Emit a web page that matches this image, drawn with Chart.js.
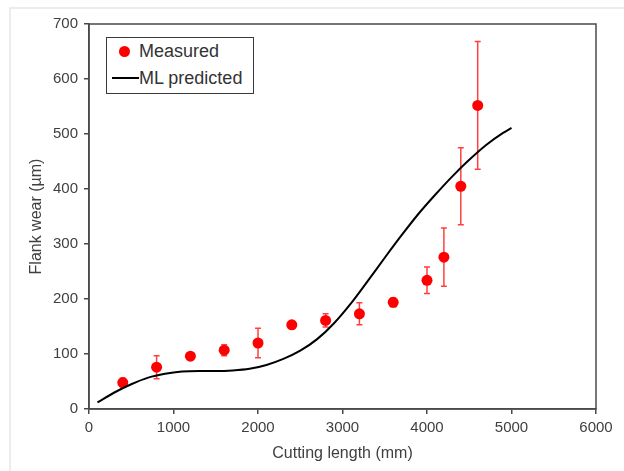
<!DOCTYPE html>
<html>
<head>
<meta charset="utf-8">
<script src="https://cdn.jsdelivr.net/npm/chart.js@4"></script>
<style>
  html, body { margin: 0; padding: 0; background: #fff; }
  #wrap { position: relative; width: 624px; height: 471px; }
  #frame { position: absolute; left: 9px; top: 7px; right: 0; bottom: 0;
           border-left: 2px solid #ececec; border-top: 2px solid #ececec; }
  #legend { position: absolute; left: 106px; top: 37px; width: 146px; height: 55px;
            border: 1px solid #3a3a3a; background: #fff;
            font-family: "Liberation Sans", Arial, sans-serif; font-size: 18px; color: #333; }
  .item { position: absolute; left: 0; height: 22px; line-height: 22px; }
  .dot { position: absolute; left: 12px; top: 6px; width: 11px; height: 11px; border-radius: 50%; background: #ff0000; }
  .seg { position: absolute; left: 5px; top: 10px; width: 27px; height: 2px; background: #000; }
  .lbl { position: absolute; left: 32px; white-space: nowrap; }
</style>
</head>
<body>
<div id="wrap">
  <div id="frame"></div>
  <canvas id="chart" width="624" height="471"></canvas>
  <div id="legend">
    <div class="item" style="top:2px"><span class="dot"></span><span class="lbl">Measured</span></div>
    <div class="item" style="top:29px"><span class="seg"></span><span class="lbl">ML predicted</span></div>
  </div>
</div>
<script>
// ==========================================
// DATA
// ==========================================
var lengths  = [400, 800, 1200, 1600, 2000, 2400, 2800, 3200, 3600, 4000, 4200, 4400, 4600];
var measured = [48, 76, 96, 107, 120, 153, 161, 173, 194, 234, 276, 405, 552];
var yErr     = [8, 21, 6, 10, 27, 6, 12, 20, 8, 24, 53, 70, 116];

var predX = [100, 300, 500, 700, 900, 1100, 1300, 1500, 1700, 1900, 2100, 2300, 2500,
             2700, 2900, 3100, 3300, 3500, 3700, 3900, 4100, 4300, 4500, 4700, 4900, 5000];
var predY = [12, 30, 45, 57, 64, 68, 69, 69, 70, 73, 80, 91, 106,
             127, 156, 192, 233, 275, 316, 355, 390, 423, 453, 480, 502, 511];

var xTicks = [0, 1000, 2000, 3000, 4000, 5000, 6000];
var yTicks = [0, 100, 200, 300, 400, 500, 600, 700];

var measuredPts = lengths.map(function (x, i) { return { x: x, y: measured[i] }; });
var predPts = predX.map(function (x, i) { return { x: x, y: predY[i] }; });

var tickFont = { family: "'Liberation Sans', Arial, sans-serif", size: 15 };
var titleFont = { family: "'Liberation Sans', Arial, sans-serif", size: 16 };
var axisColor = "#4a4a4a";
var textColor = "#404040";

// error bars drawn with the chart's scales
var errorBars = {
    id: "errorBars",
    beforeDatasetsDraw: function (chart) {
        var ctx = chart.ctx;
        var xs = chart.scales.x, ys = chart.scales.y;
        ctx.save();
        ctx.strokeStyle = "rgba(255,30,30,0.85)";
        ctx.lineWidth = 1.5;
        lengths.forEach(function (x, i) {
            var px = xs.getPixelForValue(x);
            var top = ys.getPixelForValue(measured[i] + yErr[i]);
            var bot = ys.getPixelForValue(measured[i] - yErr[i]);
            ctx.beginPath();
            ctx.moveTo(px, top); ctx.lineTo(px, bot);
            ctx.moveTo(px - 3, top); ctx.lineTo(px + 3, top);
            ctx.moveTo(px - 3, bot); ctx.lineTo(px + 3, bot);
            ctx.stroke();
        });
        ctx.restore();
    }
};

// box around the plot area
var plotBox = {
    id: "plotBox",
    afterDraw: function (chart) {
        var a = chart.chartArea, ctx = chart.ctx;
        ctx.save();
        ctx.strokeStyle = axisColor;
        ctx.lineWidth = 1.5;
        ctx.strokeRect(a.left, a.top, a.right - a.left, a.bottom - a.top);
        ctx.restore();
    }
};

new Chart(document.getElementById("chart"), {
    type: "scatter",
    data: {
        datasets: [{
            label: "ML predicted",
            data: predPts,
            showLine: true,
            borderColor: "#000",
            borderWidth: 2,
            pointRadius: 0,
            cubicInterpolationMode: "monotone"
        }, {
            label: "Measured",
            data: measuredPts,
            backgroundColor: "#ff0000",
            borderColor: "#ff0000",
            pointRadius: 5.5,
            borderWidth: 0
        }]
    },
    options: {
        responsive: false,
        animation: false,
        layout: { padding: { top: 24, right: 28, left: 0, bottom: 0 } },
        plugins: {
            legend: { display: false },
            tooltip: { enabled: false }
        },
        scales: {
            x: {
                type: "linear",
                min: 0, max: 6000,
                afterBuildTicks: function (s) { s.ticks = xTicks.map(function (v) { return { value: v }; }); },
                afterFit: function (s) { s.height = 62; },
                ticks: { color: textColor, font: tickFont, padding: 5, maxRotation: 0,
                         callback: function (v) { return String(v); } },
                grid: { drawOnChartArea: false, tickLength: 5, color: axisColor, lineWidth: 1.5 },
                border: { color: axisColor, width: 1.5 },
                title: { display: true, text: "Cutting length (mm)", color: textColor, font: titleFont,
                         padding: { top: 0, bottom: 8 } }
            },
            y: {
                min: 0, max: 700,
                afterBuildTicks: function (s) { s.ticks = yTicks.map(function (v) { return { value: v }; }); },
                afterFit: function (s) { s.width = 89; },
                ticks: { color: textColor, font: tickFont, padding: 6,
                         callback: function (v) { return String(v); } },
                grid: { drawOnChartArea: false, tickLength: 5, color: axisColor, lineWidth: 1.5 },
                border: { color: axisColor, width: 1.5 },
                title: { display: true, text: "Flank wear (µm)", color: textColor, font: titleFont,
                         padding: { top: 27, bottom: 0 } }
            }
        }
    },
    plugins: [errorBars, plotBox]
});
</script>
</body>
</html>
